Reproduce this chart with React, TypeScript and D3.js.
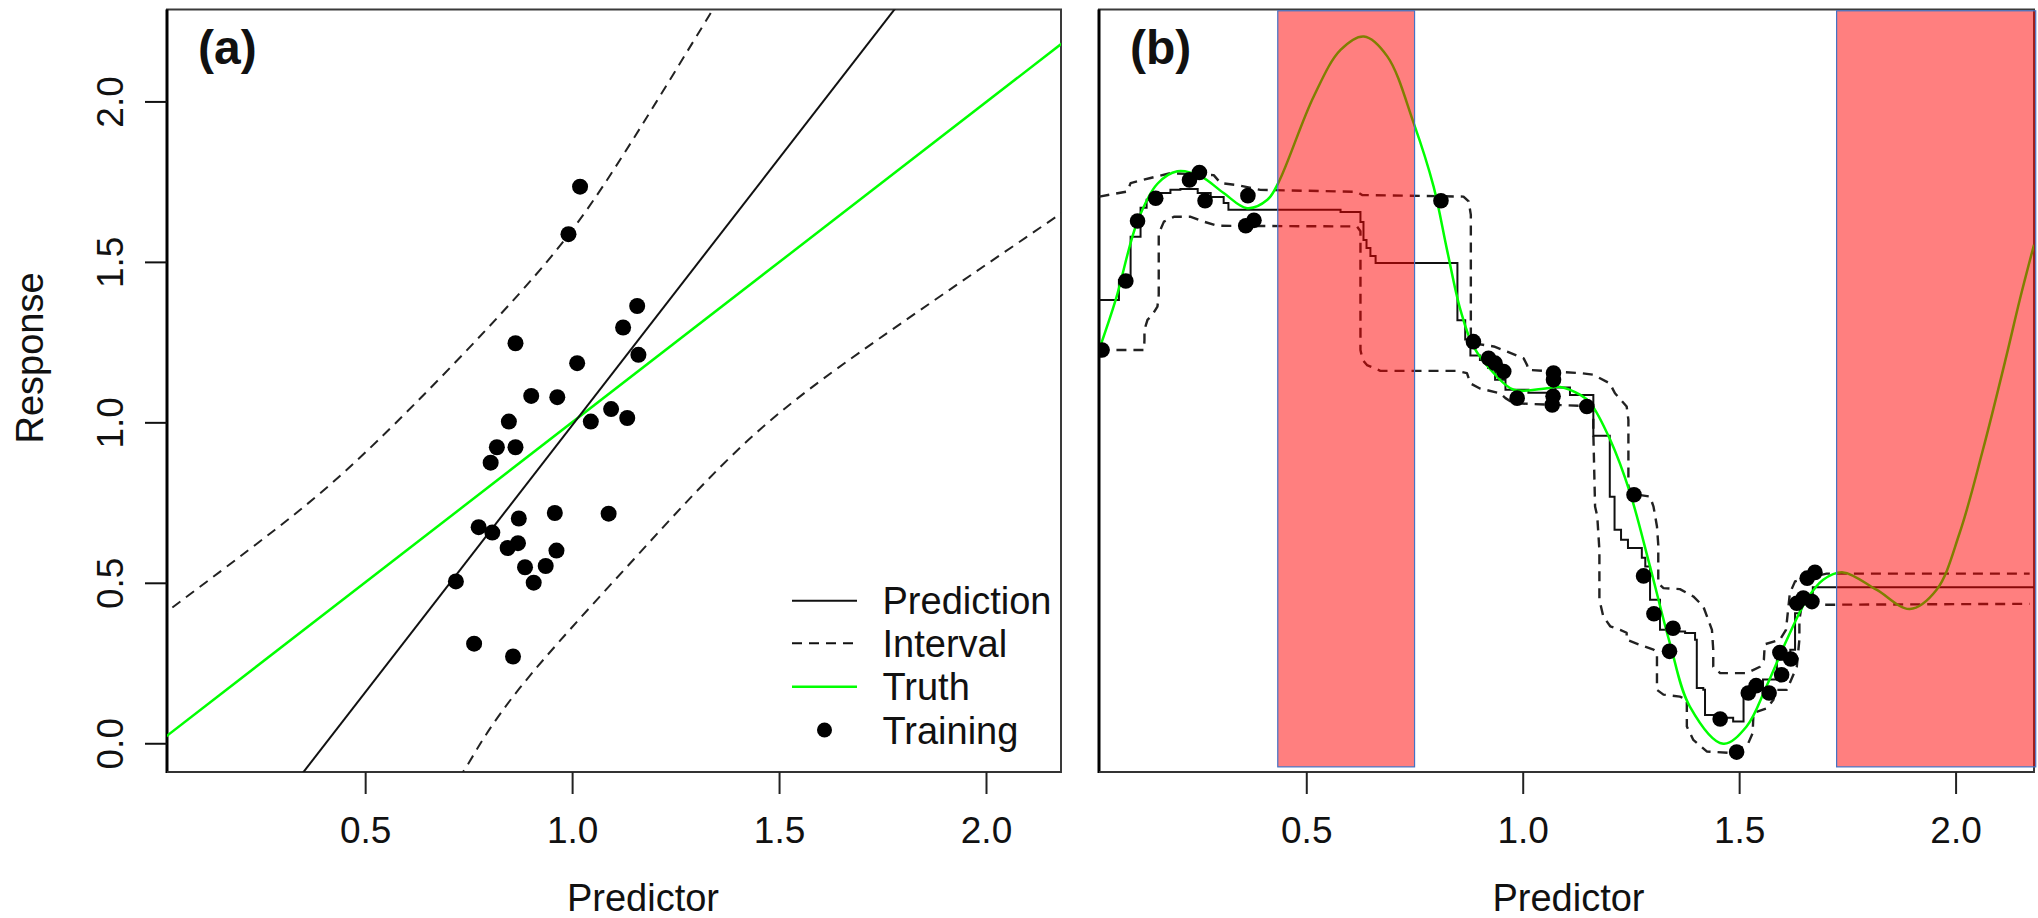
import React from 'react';
import * as d3 from 'd3';

// ---------- shared axes ----------
const X_LIM = [0.02, 2.18];
const Y_LIM = [-0.088, 2.288];
const X_TICKS = [0.5, 1.0, 1.5, 2.0];
const Y_TICKS = [0.0, 0.5, 1.0, 1.5, 2.0];
const LEGEND_LABELS = ['Prediction', 'Interval', 'Truth', 'Training'];

// ---------- panel (a) ----------
const A_TRAIN_X = [0.718, 0.762, 0.773, 0.802, 0.806, 0.817, 0.843, 0.846, 0.856, 0.862, 0.862, 0.868, 0.87, 0.885, 0.9,
  0.906, 0.935, 0.957, 0.961, 0.963, 0.99, 1.011, 1.018, 1.044, 1.087, 1.093, 1.122, 1.132, 1.156, 1.159];
const A_TRAIN_Y = [0.506, 0.312, 0.675, 0.876, 0.658, 0.924, 0.61, 1.004, 0.272, 1.248, 0.924, 0.625, 0.702, 0.55, 1.084,
  0.502, 0.554, 0.719, 0.602, 1.08, 1.588, 1.186, 1.736, 1.004, 0.717, 1.043, 1.297, 1.015, 1.364, 1.212];
const A_PRED_X = [0.0, 2.2];
const A_PRED_Y = [-0.67, 2.991];
const A_TRUTH_X = [0.0, 2.2];
const A_TRUTH_Y = [0.005, 2.2];
const A_UPPER_X = [0.0, 0.281, 0.531, 0.872, 1.1, 1.339, 1.45];
const A_UPPER_Y = [0.393, 0.667, 0.947, 1.404, 1.79, 2.288, 2.51];
const A_LOWER_X = [0.70, 0.749, 0.872, 1.148, 1.425, 1.737, 2.2];
const A_LOWER_Y = [-0.15, -0.06, 0.173, 0.575, 0.947, 1.259, 1.67];

// ---------- panel (b) ----------
const B_TRUTH_X = [0.02, 0.0585, 0.109, 0.155, 0.201, 0.255, 0.308, 0.362, 0.409, 0.435, 0.516, 0.578, 0.632, 0.686,
  0.747, 0.793, 0.824, 0.855, 0.885, 0.932, 0.978, 1.055, 1.0855, 1.132, 1.155, 1.201, 1.247, 1.293, 1.339, 1.385,
  1.462, 1.516, 1.562, 1.609, 1.655, 1.693, 1.739, 1.816, 1.893, 1.955, 2.008, 2.062, 2.116, 2.147, 2.18];
const B_TRUTH_Y = [1.227, 1.383, 1.628, 1.745, 1.784, 1.768, 1.716, 1.669, 1.695, 1.75, 2.017, 2.162, 2.204, 2.142,
  1.934, 1.736, 1.539, 1.352, 1.238, 1.155, 1.103, 1.108, 1.112, 1.087, 1.062, 0.947, 0.781, 0.552, 0.313, 0.116,
  0.0, 0.054, 0.179, 0.324, 0.449, 0.511, 0.534, 0.48, 0.42, 0.48, 0.656, 0.916, 1.207, 1.383, 1.555];

const B_PRED_X = [0.021, 0.066, 0.093, 0.116, 0.130, 0.146, 0.185, 0.208, 0.248, 0.278, 0.308, 0.319, 0.578, 0.624,
  0.631, 0.638, 0.647, 0.659, 0.848, 0.866, 0.878, 0.9, 0.919, 0.935, 0.959, 1.012, 1.074, 1.108, 1.162, 1.2, 1.211,
  1.226, 1.242, 1.274, 1.282, 1.293, 1.316, 1.339, 1.374, 1.397, 1.401, 1.416, 1.42, 1.454, 1.485, 1.509, 1.535,
  1.554, 1.586, 1.617, 1.628, 1.639, 1.669, 2.18];
const B_PRED_Y = [1.383, 1.445, 1.58, 1.67, 1.695, 1.716, 1.726, 1.729, 1.716, 1.704, 1.685, 1.664, 1.657, 1.626,
  1.57, 1.545, 1.52, 1.498, 1.32, 1.26, 1.21, 1.196, 1.171, 1.134, 1.103, 1.094, 1.11, 1.087, 0.96, 0.77, 0.667,
  0.636, 0.61, 0.58, 0.552, 0.449, 0.355, 0.35, 0.345, 0.324, 0.174, 0.168, 0.09, 0.081, 0.069, 0.163, 0.168, 0.2,
  0.262, 0.293, 0.407, 0.449, 0.488, 0.488];

const B_UPPER_X = [0.021, 0.0855, 0.093, 0.139, 0.185, 0.285, 0.301, 0.339, 0.393, 0.616, 0.628, 0.862, 0.874, 0.879,
  0.879, 0.885, 0.932, 0.963, 1.001, 1.009, 1.012, 1.132, 1.162, 1.2, 1.212, 1.239, 1.243, 1.243, 1.252, 1.293, 1.301,
  1.309, 1.312, 1.312, 1.324, 1.362, 1.393, 1.416, 1.436, 1.439, 1.439, 1.455, 1.516, 1.547, 1.556, 1.558, 1.593,
  1.607, 1.616, 1.628, 1.639, 1.701, 2.17];
const B_UPPER_Y = [1.705, 1.721, 1.747, 1.763, 1.778, 1.772, 1.747, 1.741, 1.726, 1.72, 1.71, 1.705, 1.69, 1.648,
  1.279, 1.248, 1.238, 1.222, 1.201, 1.18, 1.165, 1.155, 1.15, 1.123, 1.092, 1.051, 1.009, 0.802, 0.779, 0.77, 0.739,
  0.677, 0.62, 0.5, 0.485, 0.482, 0.459, 0.428, 0.355, 0.293, 0.24, 0.22, 0.22, 0.24, 0.262, 0.31, 0.324, 0.355,
  0.469, 0.506, 0.511, 0.53, 0.53];

const B_LOWER_X = [0.021, 0.124, 0.125, 0.125, 0.132, 0.143, 0.155, 0.158, 0.158, 0.17, 0.193, 0.232, 0.262, 0.293,
  0.616, 0.624, 0.624, 0.629, 0.639, 0.67, 0.847, 0.87, 0.878, 0.9, 0.947, 0.959, 0.978, 1.131, 1.162, 1.162, 1.166,
  1.171, 1.176, 1.176, 1.185, 1.201, 1.224, 1.239, 1.239, 1.27, 1.301, 1.309, 1.309, 1.324, 1.362, 1.378, 1.378,
  1.393, 1.424, 1.485, 1.52, 1.53, 1.532, 1.563, 1.578, 1.582, 1.609, 1.632, 1.638, 1.638, 1.643, 1.67, 2.17];
const B_LOWER_Y = [1.227, 1.227, 1.258, 1.29, 1.321, 1.336, 1.362, 1.399, 1.59, 1.627, 1.642, 1.642, 1.627, 1.614,
  1.612, 1.597, 1.227, 1.196, 1.18, 1.162, 1.162, 1.155, 1.123, 1.107, 1.092, 1.077, 1.061, 1.053, 1.04, 0.969, 0.739,
  0.71, 0.604, 0.449, 0.397, 0.366, 0.355, 0.346, 0.324, 0.308, 0.293, 0.283, 0.168, 0.153, 0.147, 0.137, 0.054,
  0.012, -0.024, -0.029, 0.002, 0.033, 0.096, 0.111, 0.137, 0.168, 0.168, 0.24, 0.324, 0.386, 0.428, 0.433, 0.436];

const B_TRAIN_X = [0.027, 0.082, 0.109, 0.151, 0.229, 0.252, 0.265, 0.364, 0.359, 0.378, 0.81, 0.885, 0.92, 0.935,
  0.955, 0.986, 1.07, 1.07, 1.069, 1.067, 1.147, 1.256, 1.278, 1.302, 1.346, 1.338, 1.455, 1.493, 1.52, 1.538, 1.568,
  1.593, 1.597, 1.618, 1.632, 1.647, 1.667, 1.656, 1.674];
const B_TRAIN_Y = [1.227, 1.442, 1.629, 1.70, 1.757, 1.78, 1.692, 1.708, 1.614, 1.631, 1.692, 1.253, 1.201, 1.186,
  1.16, 1.077, 1.155, 1.134, 1.083, 1.056, 1.051, 0.776, 0.523, 0.405, 0.36, 0.288, 0.077, -0.026, 0.158, 0.181, 0.158,
  0.284, 0.215, 0.264, 0.438, 0.454, 0.443, 0.516, 0.534];

const B_BAND_X0 = [0.433, 1.724];
const B_BAND_X1 = [0.749, 2.184];
const B_BAND_Y = [-0.072, 2.284];

const FONT = "'Liberation Sans', Arial, Helvetica, sans-serif";
const GREEN = '#00ff00';

export default function App() {
  const W = 2038, H = 918;
  const xA = d3.scaleLinear().domain(X_LIM).range([167, 1061]);
  const xB = d3.scaleLinear().domain(X_LIM).range([1099, 2034]);
  const y = d3.scaleLinear().domain(Y_LIM).range([772, 9.5]);

  const mk = (xs: number[], ys: number[], sx: any, curve: any = d3.curveLinear) =>
    d3.line<number>().x((_, i) => sx(xs[i])).y((_, i) => y(ys[i])).curve(curve)(xs) || '';

  const yTop = y(Y_LIM[1]);
  const yBot = y(Y_LIM[0]);

  const frame = (sx: any, key: string) => {
    const [x0, x1] = sx.range();
    return (
      <g key={key}>
        <rect x={x0} y={yTop} width={x1 - x0} height={yBot - yTop} fill="none" stroke="#3a3a3a" strokeWidth={2} />
        <line x1={x0} x2={x0} y1={yTop} y2={yBot + 1} stroke="#000" strokeWidth={3} />
        <line x1={x0} x2={x1} y1={yBot} y2={yBot} stroke="#333" strokeWidth={2} />
        {X_TICKS.map((t) => (
          <g key={t}>
            <line x1={sx(t)} x2={sx(t)} y1={yBot} y2={yBot + 22} stroke="#222" strokeWidth={2} />
            <text x={sx(t)} y={843} textAnchor="middle" fontSize={37} fontFamily={FONT} fill="#111">
              {t.toFixed(1)}
            </text>
          </g>
        ))}
      </g>
    );
  };

  const [ax0] = xA.range();
  const legendRows = [600.7, 643.3, 686.7, 730];

  return (
    <svg width={W} height={H} style={{ position: 'absolute', left: 0, top: 0, background: '#fff' }}>
      <defs>
        <clipPath id="clipA">
          <rect x={167} y={yTop} width={1061 - 167} height={yBot - yTop} />
        </clipPath>
        <clipPath id="clipB">
          <rect x={1099} y={yTop} width={2034 - 1099} height={yBot - yTop} />
        </clipPath>
      </defs>
      <rect x={0} y={0} width={W} height={H} fill="#fff" />

      {/* ---------- Panel (a) ---------- */}
      {frame(xA, 'fa')}
      {Y_TICKS.map((t) => (
        <g key={t}>
          <line x1={ax0} x2={ax0 - 22} y1={y(t)} y2={y(t)} stroke="#111" strokeWidth={2} />
          <text transform={`translate(123,${y(t)}) rotate(-90)`} textAnchor="middle" fontSize={37} fontFamily={FONT} fill="#111">
            {t.toFixed(1)}
          </text>
        </g>
      ))}
      <text transform="translate(43,358) rotate(-90)" textAnchor="middle" fontSize={38} fontFamily={FONT} fill="#111">Response</text>
      <text x={643} y={911} textAnchor="middle" fontSize={38} fontFamily={FONT} fill="#111">Predictor</text>
      <text x={198} y={64} fontSize={48} fontWeight="bold" fontFamily={FONT} fill="#111">(a)</text>

      <g clipPath="url(#clipA)" fill="none">
        <path d={mk(A_UPPER_X, A_UPPER_Y, xA, d3.curveNatural)} stroke="#222" strokeWidth={2} strokeDasharray="10 7" />
        <path d={mk(A_LOWER_X, A_LOWER_Y, xA, d3.curveNatural)} stroke="#222" strokeWidth={2} strokeDasharray="10 7" />
        <path d={mk(A_TRUTH_X, A_TRUTH_Y, xA)} stroke={GREEN} strokeWidth={2.5} />
        <path d={mk(A_PRED_X, A_PRED_Y, xA)} stroke="#111" strokeWidth={2} />
        {A_TRAIN_X.map((v, i) => (
          <circle key={i} cx={xA(v)} cy={y(A_TRAIN_Y[i])} r={8} fill="#000" />
        ))}
      </g>

      {/* legend */}
      <g>
        <line x1={792} x2={857} y1={legendRows[0]} y2={legendRows[0]} stroke="#111" strokeWidth={2} />
        <line x1={792} x2={857} y1={legendRows[1]} y2={legendRows[1]} stroke="#111" strokeWidth={2} strokeDasharray="10 7" />
        <line x1={792} x2={857} y1={legendRows[2]} y2={legendRows[2]} stroke={GREEN} strokeWidth={2.5} />
        <circle cx={824.5} cy={legendRows[3]} r={7.5} fill="#000" />
        {LEGEND_LABELS.map((l, i) => (
          <text key={l} x={882.5} y={legendRows[i]} dy="0.36em" fontSize={38} fontFamily={FONT} fill="#111">{l}</text>
        ))}
      </g>

      {/* ---------- Panel (b) ---------- */}
      {frame(xB, 'fb')}
      <text x={1568.5} y={911} textAnchor="middle" fontSize={38} fontFamily={FONT} fill="#111">Predictor</text>
      <text x={1130} y={64} fontSize={48} fontWeight="bold" fontFamily={FONT} fill="#111">(b)</text>

      <g clipPath="url(#clipB)" fill="none">
        <path d={mk(B_UPPER_X, B_UPPER_Y, xB)} stroke="#222" strokeWidth={2.4} strokeDasharray="10 7" strokeLinejoin="round" />
        <path d={mk(B_LOWER_X, B_LOWER_Y, xB)} stroke="#222" strokeWidth={2.4} strokeDasharray="10 7" strokeLinejoin="round" />
        <path d={mk(B_PRED_X, B_PRED_Y, xB, d3.curveStepAfter)} stroke="#111" strokeWidth={2} />
        <path d={mk(B_TRUTH_X, B_TRUTH_Y, xB, d3.curveCatmullRom)} stroke={GREEN} strokeWidth={2.5} />
        {B_TRAIN_X.map((v, i) => (
          <circle key={i} cx={xB(v)} cy={y(B_TRAIN_Y[i])} r={7.8} fill="#000" />
        ))}
      </g>

      {/* highlighted extrapolation bands */}
      {B_BAND_X0.map((x0, i) => (
        <rect key={i} x={xB(x0)} y={y(B_BAND_Y[1])} width={xB(B_BAND_X1[i]) - xB(x0)}
          height={y(B_BAND_Y[0]) - y(B_BAND_Y[1])}
          fill="#ff0000" fillOpacity={0.5} stroke="#4472c4" strokeWidth={1.2} />
      ))}
    </svg>
  );
}
